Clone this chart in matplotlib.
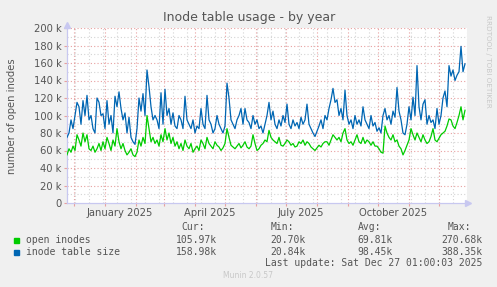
import numpy as np
import pandas as pd
import matplotlib
matplotlib.use("Agg")
import matplotlib.pyplot as plt
import matplotlib.dates as mdates
from matplotlib.ticker import FixedLocator, FuncFormatter

# values in thousands, one sample every 2 days from 2024-11-24
open_inodes = [
    55, 62, 58, 65, 60, 78, 72, 65, 80, 70,
    78, 62, 60, 65, 58, 62, 68, 60, 70, 62,
    75, 68, 60, 72, 65, 85, 70, 62, 68, 60,
    55, 58, 62, 55, 53, 58, 72, 65, 75, 68,
    100, 85, 70, 75, 68, 72, 65, 78, 70, 85,
    72, 80, 68, 75, 65, 70, 62, 68, 60, 72,
    65, 62, 68, 58, 62, 65, 60, 72, 68, 62,
    75, 68, 65, 62, 70, 66, 64, 60, 63, 68,
    85, 75, 66, 64, 62, 65, 68, 63, 66, 70,
    64, 62, 65, 78, 68, 60, 62, 66, 68, 72,
    70, 83, 75, 72, 70, 68, 75, 66, 65, 68,
    72, 70, 66, 68, 64, 65, 70, 68, 72, 66,
    70, 68, 64, 62, 60, 63, 66, 64, 68, 70,
    70, 66, 72, 78, 75, 72, 75, 70, 80, 85,
    72, 68, 70, 66, 72, 78, 70, 68, 75, 68,
    72, 70, 66, 70, 65, 65, 62, 58, 57, 88,
    80, 75, 72, 78, 70, 72, 65, 62, 55, 60,
    66, 72, 85, 78, 72, 80, 75, 70, 78, 72,
    68, 70, 76, 85, 72, 70, 74, 78, 80, 82,
    88, 96, 95, 88, 85, 92, 100, 110, 95, 106,
]
table_size = [
    75, 80, 95, 85, 100, 115, 110, 90, 117, 100,
    123, 95, 100, 85, 80, 120, 115, 100, 102, 85,
    117, 90, 100, 80, 122, 110, 127, 108, 95, 103,
    80, 98, 75, 70, 67, 85, 120, 105, 125, 100,
    152, 133, 110, 95, 100, 95, 85, 126, 90, 130,
    100, 108, 90, 103, 88, 85, 100, 95, 85, 122,
    95, 90, 85, 95, 80, 88, 85, 108, 90, 85,
    123, 95, 90, 80, 85, 100, 90, 85, 80, 88,
    137, 120, 95, 90, 85, 95, 100, 108, 90, 108,
    95, 92, 85, 100, 90, 95, 85, 88, 80, 90,
    100, 115, 95, 105, 90, 85, 95, 88, 100, 92,
    113, 90, 85, 95, 88, 92, 85, 98, 90, 95,
    113, 90, 85, 80, 76, 82, 88, 95, 85, 100,
    95, 108, 118, 131, 115, 118, 100, 108, 95, 129,
    100, 90, 95, 85, 100, 90, 95, 88, 110, 95,
    90, 85, 100, 88, 92, 82, 86, 80, 100, 108,
    95, 100, 90, 105, 98, 132, 105, 95, 80, 78,
    90, 110, 95, 121, 100, 157, 110, 95, 113, 118,
    90, 100, 92, 95, 85, 108, 90, 100, 120, 128,
    110, 157, 145, 152, 140, 146, 150, 179, 150, 159,
]

series_names = ["open inodes", "inode table size"]
cur_vals = ["105.97k", "158.98k"]
min_vals = ["20.70k", "20.84k"]
avg_vals = ["69.81k", "98.45k"]
max_vals = ["270.68k", "388.35k"]
month_labels = ["January 2025", "April 2025", "July 2025", "October 2025"]

start = pd.Timestamp("2024-11-24")
dates = pd.date_range(start, periods=len(open_inodes), freq="2D")
green = np.array(open_inodes) * 1000
blue = np.array(table_size) * 1000

W, H = 497, 287
fig = plt.figure(figsize=(W / 100, H / 100), dpi=100, facecolor="#f0f0f0")
ax = fig.add_axes([67 / W, (H - 203) / H, 400 / W, 175 / H])
ax.set_facecolor("white")

x0 = mdates.date2num(start)
ax.set_xlim(x0, x0 + 400)
ax.set_ylim(0, 200000)

# grid
red = "#e8a0a0"
grey = "#d4d4d4"
months = pd.date_range("2024-12-01", "2025-12-01", freq="MS")
mondays = pd.date_range("2024-12-02", "2025-12-29", freq="14D")
for d in mondays:
    ax.axvline(mdates.date2num(d), color=grey, lw=0.8, ls=(0, (1, 2)), zorder=1)
for v in range(10000, 200000, 20000):
    ax.axhline(v, color=grey, lw=0.8, ls=(0, (1, 2)), zorder=1)
for d in months:
    ax.axvline(mdates.date2num(d), color=red, lw=0.8, ls=(0, (1, 2)), zorder=1)
for v in range(20000, 200001, 20000):
    ax.axhline(v, color=red, lw=0.8, ls=(0, (1, 2)), zorder=1)

ax.plot(dates, green, color="#00cc00", lw=0.9, zorder=3)
ax.plot(dates, blue, color="#0066b3", lw=0.9, zorder=3)

for s in ["top", "right"]:
    ax.spines[s].set_visible(False)
for s in ["left", "bottom"]:
    ax.spines[s].set_color("#c8c8f0")
    ax.spines[s].set_linewidth(0.9)

# arrows
ax.plot([x0 + 401], [0], marker=">", color="#c8c8f0", ms=4, clip_on=False, zorder=4)
ax.plot([x0], [203000], marker="^", color="#c8c8f0", ms=4, clip_on=False, zorder=4)

ax.yaxis.set_major_locator(FixedLocator(range(0, 200001, 20000)))
ax.yaxis.set_major_formatter(FuncFormatter(lambda v, p: "0" if v == 0 else f"{int(v / 1000)} k"))
ax.tick_params(axis="y", length=2, color=red, labelsize=7.2, labelcolor="#555555", pad=2)

label_pos = [mdates.date2num(pd.Timestamp(f"2025-{m:02d}-16")) for m in (1, 4, 7, 10)]
ax.xaxis.set_major_locator(FixedLocator([mdates.date2num(d) for d in months]))
ax.xaxis.set_major_formatter(FuncFormatter(lambda v, p: ""))
ax.tick_params(axis="x", length=2, color=red)
for xp, lab in zip(label_pos, month_labels):
    ax.text(xp, -6000, lab, ha="center", va="top", fontsize=7.2, color="#555555")

fig.text(249 / W, 1 - 17 / H, "Inode table usage - by year", ha="center", va="center",
         fontsize=9, color="#555555")
fig.text(12 / W, 1 - 116 / H, "number of open inodes", rotation=90, ha="center",
         va="center", fontsize=7.2, color="#555555")
fig.text(488 / W, 1 - 15 / H, "RRDTOOL / TOBI OETIKER", rotation=-90, ha="center",
         va="top", fontsize=5.2, color="#c8c8c8")

# legend
mono = "DejaVu Sans Mono"
tc = "#555555"
def ypos(y):
    return 1 - y / H

for xr, head in zip([193, 282, 370, 459], ["Cur:", "Min:", "Avg:", "Max:"]):
    fig.text(xr / W, ypos(227), head, ha="center", va="center", fontsize=7, family=mono, color=tc)

colors = ["#00cc00", "#0066b3"]
for i, name in enumerate(series_names):
    y = 240 + i * 12
    fig.patches.append(plt.Rectangle((14 / W, ypos(y + 2.5)), 5 / W, 5 / H,
                                     transform=fig.transFigure, color=colors[i]))
    fig.text(26 / W, ypos(y), name, ha="left", va="center", fontsize=7, family=mono, color=tc)
    for xr, vals in zip([217, 306, 393, 482], [cur_vals, min_vals, avg_vals, max_vals]):
        fig.text(xr / W, ypos(y), vals[i], ha="right", va="center", fontsize=7, family=mono, color=tc)

fig.text(482 / W, ypos(263), "Last update: Sat Dec 27 01:00:03 2025", ha="right",
         va="center", fontsize=7, family=mono, color=tc)
fig.text(248 / W, ypos(276), "Munin 2.0.57", ha="center", va="center", fontsize=5.5,
         color="#c8c8c8")

fig.savefig("out.png", dpi=100, facecolor=fig.get_facecolor())
